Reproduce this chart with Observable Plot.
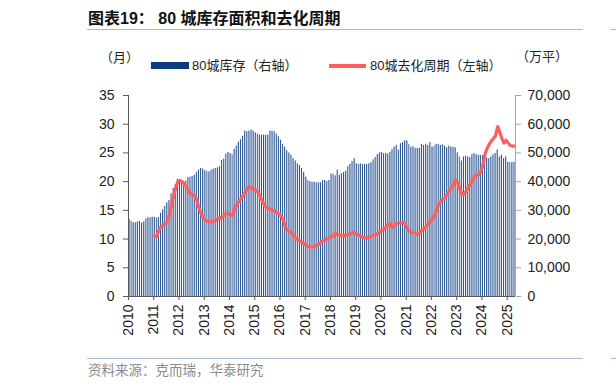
<!DOCTYPE html>
<html><head><meta charset="utf-8">
<script src="https://cdn.jsdelivr.net/npm/d3@7"></script>
<script src="https://cdn.jsdelivr.net/npm/@observablehq/plot@0.6"></script>
<style>
body{margin:0;background:#fff;}
#wrap{position:relative;width:616px;height:389px;overflow:hidden;font-family:"Liberation Sans","Noto Sans CJK SC",sans-serif;}
.t{position:absolute;white-space:nowrap;line-height:1;}
.r{position:absolute;}
</style></head><body>
<div id="wrap">
  <div id="chart" style="position:absolute;left:0;top:0"></div>
  <div class="t" style="left:88px;top:11px;font-size:16px;font-weight:bold;color:#111">图表19： 80 城库存面积和去化周期</div>
  <div class="r" style="left:87px;top:28.5px;width:496px;height:1.6px;background:#a9bbd1"></div>
  <div class="r" style="left:611px;top:28.5px;width:10px;height:1.6px;background:#a9bbd1"></div>
  <div class="t" style="left:100px;top:50.5px;font-size:13px;color:#222">（月）</div>
  <div class="r" style="left:151px;top:62px;width:38px;height:7px;background:#0d3b7e"></div>
  <div class="t" style="left:192px;top:58.5px;font-size:13px;color:#222">80城库存（右轴）</div>
  <div class="r" style="left:328.5px;top:64px;width:37px;height:3.5px;background:#ff5e5e"></div>
  <div class="t" style="left:370px;top:58.5px;font-size:13px;color:#222">80城去化周期（左轴）</div>
  <div class="t" style="left:516px;top:49.5px;font-size:13px;color:#222">（万平）</div>
  <div class="r" style="left:87px;top:357.5px;width:496px;height:1.6px;background:#a9bbd1"></div>
  <div class="r" style="left:611px;top:357.5px;width:10px;height:1.6px;background:#a9bbd1"></div>
  <div class="t" style="left:88px;top:364px;font-size:13.5px;color:#8c8c8c">资料来源：克而瑞，华泰研究</div>
</div>
<script>
// 80城库存（万平）, monthly from 2010-01 to 2025-04
const inventory = [
  26800,26200,25700,25700,26000,26200,25600,26000,27000,27400,27400,27600,
  27600,27400,27400,29000,30200,31400,32600,33400,35800,37600,39000,40800,
  40800,39800,39800,40200,41400,41600,41800,42200,43200,44000,44600,44400,
  43800,43600,43400,44000,44400,44600,44800,45200,47400,47800,49600,50200,
  49800,49400,51200,52400,53800,54600,55800,57600,57400,57600,58000,57600,
  57000,56600,56200,56200,56200,56200,56200,57600,57600,57400,56600,55600,
  54400,53000,52000,50800,50000,49200,48000,47200,46200,45600,44600,43200,
  41600,40400,40000,39800,39800,39600,39600,39600,40400,40400,40000,40400,
  42600,42600,42000,44000,42200,42800,43200,43600,45200,46000,47000,48000,
  46200,46000,46200,46000,46000,46000,46200,46600,47600,48400,49400,50000,
  50200,49800,49800,49600,50200,51200,52000,52600,51000,53200,53600,54200,
  54200,53000,52000,52200,51600,51600,51600,53000,52600,53000,52600,53600,
  52000,52400,53000,53000,52600,52800,52400,51800,52400,52000,52000,51800,
  50000,48600,47200,48600,48800,48600,48400,49400,49800,49400,49200,49200,
  49000,48600,48200,48000,48600,49400,49800,51000,48600,49200,48000,48600,
  46800,46600,46600,46800
];
// 80城去化周期（月）, monthly from 2011-01 to 2025-04
const cycle = [
  10.6,10.4,11.6,12.1,12.4,12.7,13.1,14.2,15.9,17.5,19.0,20.0,
  20.2,20.0,19.6,19.1,18.5,17.9,17.7,17.5,16.8,15.4,14.4,13.7,
  13.3,13.1,13.0,13.0,13.1,13.3,13.5,13.7,13.8,14.2,14.5,14.4,
  14.2,14.1,15.3,15.9,16.5,17.0,17.6,18.1,18.8,19.1,18.9,18.7,
  18.5,18.2,17.5,16.7,16.0,15.5,15.3,15.2,15.0,14.9,14.6,14.4,
  14.0,13.4,12.1,11.5,11.3,11.1,10.6,10.2,9.9,9.6,9.4,9.2,
  8.9,8.7,8.6,8.6,8.7,8.9,9.1,9.4,9.7,9.9,10.0,10.2,
  10.5,10.5,11.1,10.8,10.7,10.6,10.6,10.7,10.8,10.9,11.1,11.1,
  10.9,10.7,10.5,10.3,10.2,10.2,10.3,10.5,10.6,10.8,11.0,11.2,
  11.5,11.8,12.1,12.6,12.7,12.0,12.3,12.8,12.8,12.8,13.0,12.6,
  11.8,11.4,11.1,11.1,10.9,10.8,11.1,11.5,11.8,12.2,12.6,13.1,
  13.5,14.0,15.1,16.0,16.5,16.9,17.2,17.8,18.3,18.9,19.5,20.3,
  19.9,18.7,17.9,17.8,18.3,19.0,19.5,20.2,20.9,21.1,21.2,21.7,
  23.0,24.8,25.8,26.5,27.1,27.5,28.0,29.6,28.6,27.5,26.7,27.2,
  26.7,26.3,26.2,26.2
];
const cycleStartMonth = 12; // Jan 2011
const years = [2010,2011,2012,2013,2014,2015,2016,2017,2018,2019,2020,2021,2022,2023,2024,2025];
const leftTicks = [0,5,10,15,20,25,30,35];
const rightTicks = [0,10000,20000,30000,40000,50000,60000,70000];
const ratio = 2000; // right / left

const monthDate = i => new Date(Date.UTC(2010, i, 1));
const barData = inventory.map((v, i) => ({x1: monthDate(i), x2: monthDate(i + 1), v: v / ratio}));
const lineData = cycle.map((v, i) => {
  const m = i + cycleStartMonth;
  const a = +monthDate(m), b = +monthDate(m + 1);
  return {x: new Date((a + b) / 2), v};
});
const nMonths = inventory.length;

const chart = Plot.plot({
  width: 616, height: 389,
  marginLeft: 128, marginRight: 101, marginTop: 95, marginBottom: 93,
  style: {fontFamily: "Liberation Sans, Arial, sans-serif", fontSize: "14px", color: "#222", background: "transparent", overflow: "visible"},
  x: {type: "utc", domain: [monthDate(0), monthDate(nMonths)], label: null},
  y: {domain: [0, 35], label: null},
  marks: [
    Plot.rect(barData, {x1: "x1", x2: "x2", y1: 0, y2: "v", fill: "#2e5895", insetLeft: 0.5, insetRight: 0.5}),
    Plot.line(lineData, {x: "x", y: "v", stroke: "#ff5e5e", strokeWidth: 3.2, strokeLinejoin: "round"}),
    Plot.ruleY([0], {stroke: "#595959"}),
    Plot.ruleX([monthDate(0)], {stroke: "#595959"}),
    Plot.ruleX([monthDate(nMonths)], {stroke: "#a6a6a6"}),
    Plot.axisY(leftTicks, {anchor: "left", tickSize: 5, tickPadding: 9, stroke: "#595959", fill: "#222", label: null}),
    Plot.axisY(rightTicks.map(d => d / ratio), {anchor: "right", tickSize: 5, tickPadding: 7, stroke: "#a6a6a6", fill: "#222", label: null,
      tickFormat: d => d3.format(",")(Math.round(d * ratio))}),
    Plot.axisX(years.map(y => new Date(Date.UTC(y, 0, 1))), {anchor: "bottom", tickSize: 4, tickPadding: 4, tickRotate: -90,
      stroke: "#595959", fill: "#222", label: null, tickFormat: d => String(d.getUTCFullYear())})
  ]
});
document.getElementById("chart").appendChild(chart);
</script>
</body></html>
